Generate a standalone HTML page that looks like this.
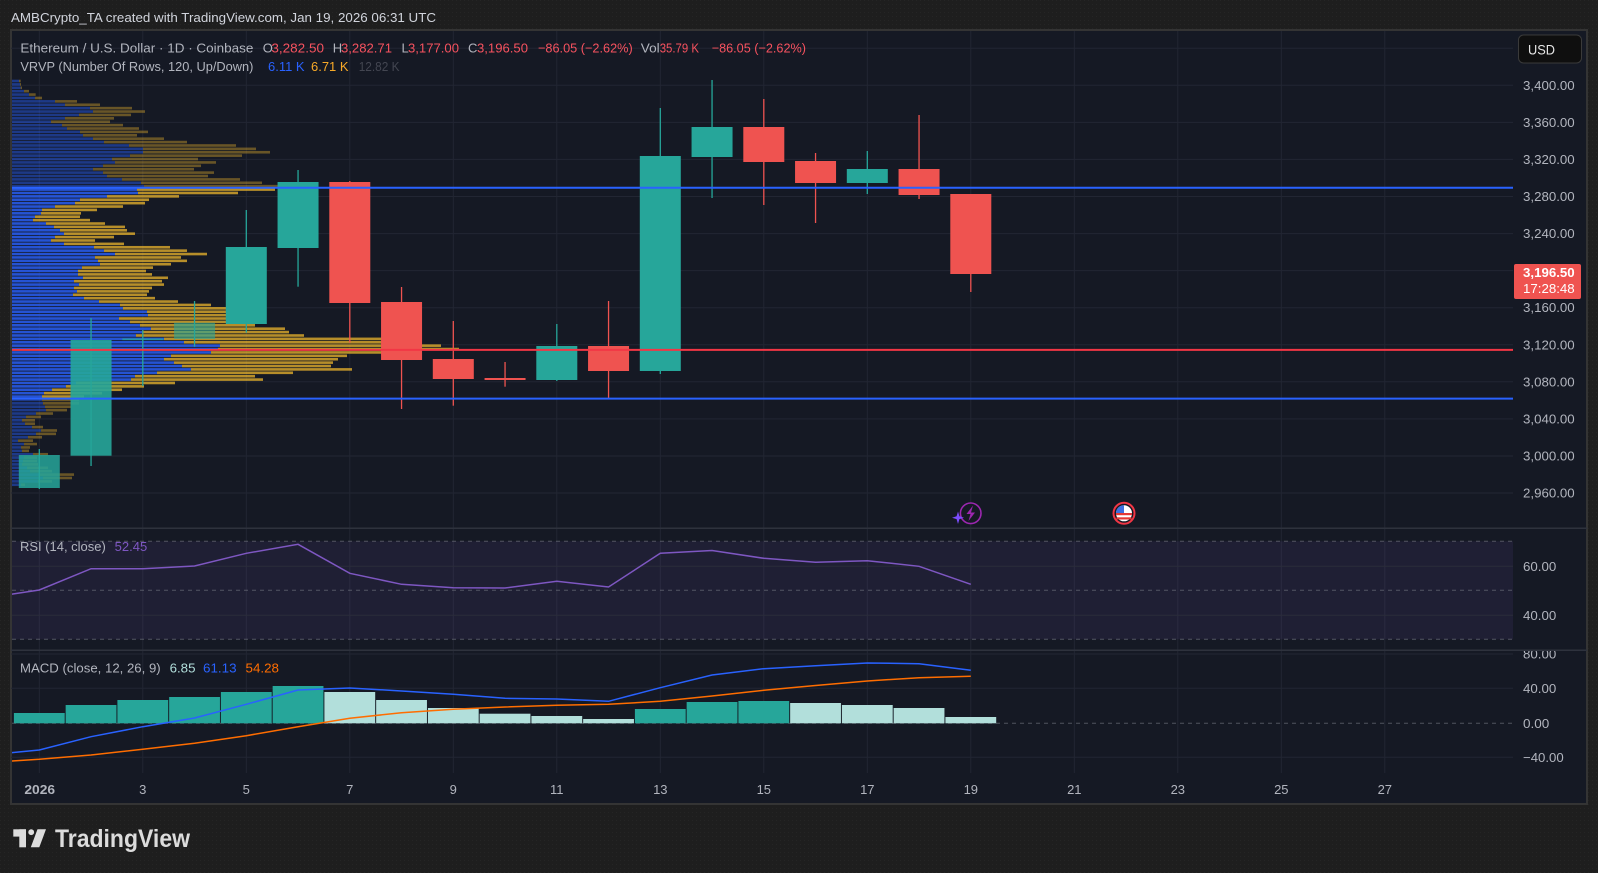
<!DOCTYPE html>
<html><head><meta charset="utf-8">
<style>
html,body{margin:0;padding:0;background:#1e1e1e;width:1598px;height:873px;overflow:hidden}
svg{display:block}
text{font-family:"Liberation Sans",sans-serif}
</style></head>
<body>
<svg width="1598" height="873" viewBox="0 0 1598 873" xmlns="http://www.w3.org/2000/svg">
<defs>
<pattern id="dots" width="4" height="4" patternUnits="userSpaceOnUse"><rect width="4" height="4" fill="#1e1e1e"/><rect width="1" height="1" fill="#252525"/></pattern>
<clipPath id="mainClip"><rect x="12" y="31" width="1501" height="497"/></clipPath>
<clipPath id="rsiClip"><rect x="12" y="529" width="1501" height="121"/></clipPath>
<clipPath id="macdClip"><rect x="12" y="651" width="1501" height="122"/></clipPath>
<clipPath id="macdAxisClip"><rect x="1513" y="651" width="74" height="122"/></clipPath>
</defs>
<rect width="1598" height="873" fill="url(#dots)"/>

<text x="11" y="22" font-size="13" fill="#d1d4dc" textLength="425" lengthAdjust="spacingAndGlyphs">AMBCrypto_TA created with TradingView.com, Jan 19, 2026 06:31 UTC</text>

<!-- frame -->
<rect x="11" y="30" width="1576" height="774" fill="#151924" stroke="#343434" stroke-width="2"/>

<!-- grid -->
<g stroke="#222633" stroke-width="1">
<line x1="11" x2="1513" y1="48.3" y2="48.3"/><line x1="11" x2="1513" y1="85.3" y2="85.3"/>
<line x1="11" x2="1513" y1="122.4" y2="122.4"/><line x1="11" x2="1513" y1="159.4" y2="159.4"/>
<line x1="11" x2="1513" y1="196.5" y2="196.5"/><line x1="11" x2="1513" y1="233.6" y2="233.6"/>
<line x1="11" x2="1513" y1="270.6" y2="270.6"/><line x1="11" x2="1513" y1="307.7" y2="307.7"/>
<line x1="11" x2="1513" y1="344.8" y2="344.8"/><line x1="11" x2="1513" y1="381.8" y2="381.8"/>
<line x1="11" x2="1513" y1="418.9" y2="418.9"/><line x1="11" x2="1513" y1="456" y2="456"/>
<line x1="11" x2="1513" y1="493" y2="493"/>
<line x1="11" x2="1513" y1="654" y2="654"/><line x1="11" x2="1513" y1="688.3" y2="688.3"/>
<line x1="11" x2="1513" y1="757.3" y2="757.3"/>
<line x1="39.3" x2="39.3" y1="31" y2="773"/><line x1="142.8" x2="142.8" y1="31" y2="773"/>
<line x1="246.3" x2="246.3" y1="31" y2="773"/><line x1="349.8" x2="349.8" y1="31" y2="773"/>
<line x1="453.3" x2="453.3" y1="31" y2="773"/><line x1="556.8" x2="556.8" y1="31" y2="773"/>
<line x1="660.3" x2="660.3" y1="31" y2="773"/><line x1="763.8" x2="763.8" y1="31" y2="773"/>
<line x1="867.3" x2="867.3" y1="31" y2="773"/><line x1="970.8" x2="970.8" y1="31" y2="773"/>
<line x1="1074.3" x2="1074.3" y1="31" y2="773"/><line x1="1177.8" x2="1177.8" y1="31" y2="773"/>
<line x1="1281.3" x2="1281.3" y1="31" y2="773"/><line x1="1384.8" x2="1384.8" y1="31" y2="773"/>
</g>

<!-- RSI band -->
<rect x="12" y="541.3" width="1501" height="98" fill="rgba(126,87,194,0.1)"/>
<g stroke="#787b86" stroke-opacity="0.6" stroke-dasharray="4 4" stroke-width="1">
<line x1="12" x2="1513" y1="541.3" y2="541.3"/>
<line x1="12" x2="1513" y1="590.3" y2="590.3"/>
<line x1="12" x2="1513" y1="639.3" y2="639.3"/>
</g>
<g stroke="#2a2d3a" stroke-width="1">
<line x1="12" x2="1513" y1="566.3" y2="566.3"/>
<line x1="12" x2="1513" y1="615.3" y2="615.3"/>
</g>

<!-- VRVP -->
<g id="vp" clip-path="url(#mainClip)"></g>

<!-- candles -->
<g clip-path="url(#mainClip)">
<g stroke="#26a69a" stroke-width="1.3">
<line x1="39.3" x2="39.3" y1="449" y2="489"/>
<line x1="91.05" x2="91.05" y1="318" y2="466"/>
<line x1="142.8" x2="142.8" y1="330" y2="386"/>
<line x1="194.55" x2="194.55" y1="301" y2="346.7"/>
<line x1="246.3" x2="246.3" y1="210" y2="332.7"/>
<line x1="298.05" x2="298.05" y1="170" y2="286.7"/>
<line x1="556.8" x2="556.8" y1="324" y2="381"/>
<line x1="660.3" x2="660.3" y1="108" y2="374"/>
<line x1="712.05" x2="712.05" y1="80" y2="198"/>
<line x1="867.3" x2="867.3" y1="151" y2="194"/>
</g>
<g stroke="#ef5350" stroke-width="1.3">
<line x1="349.8" x2="349.8" y1="181" y2="342.7"/>
<line x1="401.55" x2="401.55" y1="287" y2="409"/>
<line x1="453.3" x2="453.3" y1="321" y2="405.7"/>
<line x1="505.05" x2="505.05" y1="362" y2="386.7"/>
<line x1="608.55" x2="608.55" y1="301" y2="398.3"/>
<line x1="763.8" x2="763.8" y1="99" y2="205"/>
<line x1="815.55" x2="815.55" y1="153" y2="223"/>
<line x1="919.05" x2="919.05" y1="115" y2="199"/>
<line x1="970.8" x2="970.8" y1="194" y2="292"/>
</g>
<g fill="#26a69a">
<rect x="18.8" y="455" width="41" height="33" opacity="0.85"/>
<rect x="70.55" y="340" width="41" height="115.7" opacity="0.9"/>
<rect x="122.3" y="338.5" width="41" height="1.6" opacity="0.8"/>
<rect x="174.05" y="322.7" width="41" height="16.3" opacity="0.6"/>
<rect x="225.8" y="247" width="41" height="77"/>
<rect x="277.55" y="182" width="41" height="66"/>
<rect x="536.3" y="346" width="41" height="34"/>
<rect x="639.8" y="156" width="41" height="215"/>
<rect x="691.55" y="127" width="41" height="30"/>
<rect x="846.8" y="169" width="41" height="14"/>
</g>
<g fill="#ef5350">
<rect x="329.3" y="182" width="41" height="121"/>
<rect x="381.05" y="302" width="41" height="58"/>
<rect x="432.8" y="359" width="41" height="20"/>
<rect x="484.55" y="378" width="41" height="2"/>
<rect x="588.05" y="346" width="41" height="25"/>
<rect x="743.3" y="127" width="41" height="35"/>
<rect x="795.05" y="161" width="41" height="22"/>
<rect x="898.55" y="169" width="41" height="26"/>
<rect x="950.3" y="194" width="41" height="80"/>
</g>
<!-- horizontal drawings -->
<line x1="12" x2="1513" y1="187.7" y2="187.7" stroke="#2962ff" stroke-width="2"/>
<line x1="12" x2="1513" y1="349.9" y2="349.9" stroke="#f23645" stroke-width="2"/>
<line x1="12" x2="1513" y1="398.6" y2="398.6" stroke="#2962ff" stroke-width="2"/>
</g>

<!-- RSI line -->
<g clip-path="url(#rsiClip)">
<polyline fill="none" stroke="#7e57c2" stroke-width="1.5" points="11.2,594.3 39.3,590 91.05,568.7 142.8,568.7 194.55,566 246.3,553.3 298.05,544.3 349.8,573.3 401.55,584.3 453.3,587.7 505.05,588 556.8,581.3 608.55,587 660.3,553.3 712.05,550.5 763.8,558.3 815.55,562.3 867.3,560.7 919.05,566.3 970.8,584.3"/>
</g>

<!-- MACD -->
<g clip-path="url(#macdClip)">
<line x1="12" x2="1513" y1="723.3" y2="723.3" stroke="#787b86" stroke-opacity="0.6" stroke-dasharray="4 4"/>
<g fill="#26a69a">
<rect x="13.9" y="713" width="50.8" height="10.3"/>
<rect x="65.65" y="705" width="50.8" height="18.3"/>
<rect x="117.4" y="700" width="50.8" height="23.3"/>
<rect x="169.15" y="697" width="50.8" height="26.3"/>
<rect x="220.9" y="692" width="50.8" height="31.3"/>
<rect x="272.65" y="686" width="50.8" height="37.3"/>
<rect x="634.9" y="709" width="50.8" height="14.3"/>
<rect x="686.65" y="702" width="50.8" height="21.3"/>
<rect x="738.4" y="701" width="50.8" height="22.3"/>
</g>
<g fill="#b2dfdb">
<rect x="324.4" y="692" width="50.8" height="31.3"/>
<rect x="376.15" y="700" width="50.8" height="23.3"/>
<rect x="427.9" y="708" width="50.8" height="15.3"/>
<rect x="479.65" y="713.7" width="50.8" height="9.6"/>
<rect x="531.4" y="716" width="50.8" height="7.3"/>
<rect x="583.15" y="719" width="50.8" height="4.3"/>
<rect x="790.15" y="703" width="50.8" height="20.3"/>
<rect x="841.9" y="705" width="50.8" height="18.3"/>
<rect x="893.65" y="708" width="50.8" height="15.3"/>
<rect x="945.4" y="717" width="50.8" height="6.3"/>
</g>
<polyline fill="none" stroke="#2962ff" stroke-width="1.5" points="11.2,752.7 39.3,750 91.05,736.7 142.8,726.7 194.55,718 246.3,704.3 298.05,690 349.8,688 401.55,691 453.3,694.3 505.05,698.3 556.8,699 608.55,701.3 660.3,687.7 712.05,675 763.8,668.7 815.55,665.7 867.3,663 919.05,663.7 970.8,670.3"/>
<polyline fill="none" stroke="#ff6d00" stroke-width="1.5" points="11.2,761 39.3,759.3 91.05,755 142.8,749.3 194.55,743.3 246.3,735.7 298.05,726.7 349.8,718.3 401.55,712.7 453.3,709.3 505.05,707 556.8,705.3 608.55,704.3 660.3,701.3 712.05,696 763.8,690.3 815.55,685.5 867.3,681 919.05,677.7 970.8,676.3"/>
</g>

<!-- pane separators -->
<line x1="11" x2="1587" y1="528.3" y2="528.3" stroke="#2e323d" stroke-width="1.5"/>
<line x1="11" x2="1587" y1="650.3" y2="650.3" stroke="#2e323d" stroke-width="1.5"/>

<!-- legends -->
<g font-size="13">
<text x="20.4" y="52.5" fill="#b2b5be" textLength="233" lengthAdjust="spacingAndGlyphs">Ethereum / U.S. Dollar · 1D · Coinbase</text>
<text x="262.8" y="52.5" fill="#b2b5be">O</text>
<text x="271.4" y="52.5" fill="#f7525f" textLength="52.6" lengthAdjust="spacingAndGlyphs">3,282.50</text>
<text x="332.7" y="52.5" fill="#b2b5be">H</text>
<text x="341" y="52.5" fill="#f7525f" textLength="51" lengthAdjust="spacingAndGlyphs">3,282.71</text>
<text x="401.5" y="52.5" fill="#b2b5be">L</text>
<text x="408" y="52.5" fill="#f7525f" textLength="51" lengthAdjust="spacingAndGlyphs">3,177.00</text>
<text x="468" y="52.5" fill="#b2b5be">C</text>
<text x="477" y="52.5" fill="#f7525f" textLength="51" lengthAdjust="spacingAndGlyphs">3,196.50</text>
<text x="538" y="52.5" fill="#f7525f" textLength="94.7" lengthAdjust="spacingAndGlyphs">−86.05 (−2.62%)</text>
<text x="640.8" y="52.5" fill="#b2b5be" textLength="18.9" lengthAdjust="spacingAndGlyphs">Vol</text>
<text x="659.7" y="52.5" fill="#f7525f" textLength="39.3" lengthAdjust="spacingAndGlyphs">35.79 K</text>
<text x="711.7" y="52.5" fill="#f7525f" textLength="94.3" lengthAdjust="spacingAndGlyphs">−86.05 (−2.62%)</text>

<text x="20.4" y="71" fill="#b2b5be" textLength="233" lengthAdjust="spacingAndGlyphs">VRVP (Number Of Rows, 120, Up/Down)</text>
<text x="268" y="71" fill="#2962ff" textLength="36.6" lengthAdjust="spacingAndGlyphs">6.11 K</text>
<text x="311" y="71" fill="#f7a928" textLength="37.5" lengthAdjust="spacingAndGlyphs">6.71 K</text>
<text x="358.7" y="71" fill="#434651" textLength="40.8" lengthAdjust="spacingAndGlyphs">12.82 K</text>

<text x="20" y="551" fill="#b2b5be" textLength="85.8" lengthAdjust="spacingAndGlyphs">RSI (14, close)</text>
<text x="114.7" y="551" fill="#7e57c2" textLength="32.6" lengthAdjust="spacingAndGlyphs">52.45</text>

<text x="20" y="672.7" fill="#b2b5be" textLength="140.7" lengthAdjust="spacingAndGlyphs">MACD (close, 12, 26, 9)</text>
<text x="169.6" y="672.7" fill="#b2dfdb" textLength="25.9" lengthAdjust="spacingAndGlyphs">6.85</text>
<text x="203" y="672.7" fill="#2962ff" textLength="33.6" lengthAdjust="spacingAndGlyphs">61.13</text>
<text x="245.5" y="672.7" fill="#ff6d00" textLength="33.5" lengthAdjust="spacingAndGlyphs">54.28</text>
</g>

<!-- price axis -->
<g font-size="13" fill="#b2b5be">
<text x="1523" y="89.8" textLength="51.7" lengthAdjust="spacingAndGlyphs">3,400.00</text>
<text x="1523" y="126.9" textLength="51.7" lengthAdjust="spacingAndGlyphs">3,360.00</text>
<text x="1523" y="163.9" textLength="51.7" lengthAdjust="spacingAndGlyphs">3,320.00</text>
<text x="1523" y="201" textLength="51.7" lengthAdjust="spacingAndGlyphs">3,280.00</text>
<text x="1523" y="238.1" textLength="51.7" lengthAdjust="spacingAndGlyphs">3,240.00</text>
<text x="1523" y="312.2" textLength="51.7" lengthAdjust="spacingAndGlyphs">3,160.00</text>
<text x="1523" y="349.3" textLength="51.7" lengthAdjust="spacingAndGlyphs">3,120.00</text>
<text x="1523" y="386.3" textLength="51.7" lengthAdjust="spacingAndGlyphs">3,080.00</text>
<text x="1523" y="423.4" textLength="51.7" lengthAdjust="spacingAndGlyphs">3,040.00</text>
<text x="1523" y="460.5" textLength="51.7" lengthAdjust="spacingAndGlyphs">3,000.00</text>
<text x="1523" y="497.5" textLength="51.7" lengthAdjust="spacingAndGlyphs">2,960.00</text>
<text x="1523" y="570.8" textLength="33.3" lengthAdjust="spacingAndGlyphs">60.00</text>
<text x="1523" y="619.8" textLength="33.3" lengthAdjust="spacingAndGlyphs">40.00</text>
<g clip-path="url(#macdAxisClip)">
<text x="1523" y="658.5" textLength="33.3" lengthAdjust="spacingAndGlyphs">80.00</text>
</g>
<text x="1523" y="692.8" textLength="33.3" lengthAdjust="spacingAndGlyphs">40.00</text>
<text x="1523" y="727.8" textLength="26.3" lengthAdjust="spacingAndGlyphs">0.00</text>
<text x="1523" y="761.8" textLength="40.7" lengthAdjust="spacingAndGlyphs">−40.00</text>
</g>

<!-- last price label -->
<rect x="1514" y="264" width="67" height="35" rx="2" fill="#ef5350"/>
<text x="1523" y="277" font-size="13" font-weight="bold" fill="#ffffff" textLength="51.7" lengthAdjust="spacingAndGlyphs">3,196.50</text>
<text x="1523" y="293" font-size="13" fill="#ffffff" textLength="51.7" lengthAdjust="spacingAndGlyphs">17:28:48</text>

<!-- USD button -->
<rect x="1518.5" y="35" width="63" height="28" rx="5" fill="#0f0f0f" stroke="#3a3a3a" stroke-width="1"/>
<text x="1528" y="54.5" font-size="14" fill="#e6e6e6" textLength="27" lengthAdjust="spacingAndGlyphs">USD</text>

<!-- time axis -->
<g font-size="13" fill="#b2b5be" text-anchor="middle">
<text x="39.7" y="794" font-weight="bold" textLength="30.7" lengthAdjust="spacingAndGlyphs">2026</text>
<text x="142.8" y="794">3</text>
<text x="246.3" y="794">5</text>
<text x="349.8" y="794">7</text>
<text x="453.3" y="794">9</text>
<text x="556.8" y="794">11</text>
<text x="660.3" y="794">13</text>
<text x="763.8" y="794">15</text>
<text x="867.3" y="794">17</text>
<text x="970.8" y="794">19</text>
<text x="1074.3" y="794">21</text>
<text x="1177.8" y="794">23</text>
<text x="1281.3" y="794">25</text>
<text x="1384.8" y="794">27</text>
</g>

<!-- event icons -->
<circle cx="970.7" cy="513.3" r="10.3" fill="#151924" stroke="#9c27b0" stroke-width="1.6"/>
<path d="M973 505.5 L966.5 514 L970.5 514 L968.5 521 L975 512.5 L971 512.5 Z" fill="#9c27b0"/>
<path d="M958 511.5 L959.4 516.3 L964 517.7 L959.4 519.1 L958 524 L956.6 519.1 L952 517.7 L956.6 516.3 Z" fill="#7c4dff"/>
<circle cx="1124" cy="513.3" r="10.5" fill="#151924" stroke="#f23645" stroke-width="2"/>
<circle cx="1124" cy="513.3" r="8" fill="#ffffff"/>
<rect x="1116" y="513" width="16" height="2.2" fill="#e53935"/>
<rect x="1116.5" y="517.3" width="15" height="2.2" fill="#e53935"/>
<path d="M1116.2 511 A8 8 0 0 1 1124 505.3 L1124 513 L1116 513 Z" fill="#3d6fe0"/>

<!-- TradingView logo -->
<g fill="#dcdcdc">
<rect x="13.3" y="829.3" width="12.7" height="7.3"/>
<rect x="19.3" y="829.3" width="6.7" height="18"/>
<circle cx="31.2" cy="832.2" r="2.9"/>
<polygon points="37.5,829.3 46,829.3 39.3,847.3 30.8,847.3"/>
</g>
<text x="55" y="847" font-size="25" font-weight="bold" fill="#dcdcdc" textLength="135" lengthAdjust="spacingAndGlyphs">TradingView</text>
</svg>

<script>
(function(){
var B=[57,60,62,72,87,105,165,195,270,279,237,195,153,186,201,240,249,279,312,387,429,429,390,336,345,309,279,309,321,366,423,432,
411,414,321,240,225,165,126,123,105,99,138,162,180,192,165,153,192,282,312,345,285,294,300,246,234,234,249,222,237,222,231,219,252,297,360,369,441,444,357,390,420,453,426,408,492,552,660,654,633,513,492,522,546,573,471,405,393,228,198,156,132,126,
126,129,135,138,108,78,66,75,96,123,108,84,54,72,63,66,99,72,69,66,81,90,120,129,114,63];
var O=[62,63,66,87,107,126,231,300,396,435,393,342,330,369,417,444,411,492,561,708,768,810,726,594,648,603,582,642,624,720,786,882,
825,714,537,447,435,369,291,243,240,270,315,375,381,405,342,285,372,510,561,621,543,561,513,459,438,456,504,486,492,456,447,441,465,534,633,678,768,777,681,732,765,855,867,912,1161,1248,1323,1377,1242,1041,1014,999,993,1056,879,765,789,525,432,366,306,252,
237,237,213,201,159,123,105,105,129,171,168,126,99,111,90,87,144,111,111,114,144,156,222,216,156,75];
var g=document.getElementById('vp'),ns='http://www.w3.org/2000/svg',x0=12;
for(var i=0;i<B.length;i++){
 var yc=81+i*3.393,bright=(i>=32&&i<94);
 var b=B[i]/3,o=O[i]/3;
 var cb=bright?'rgba(41,98,255,0.8)':'rgba(41,98,255,0.45)';
 var co=bright?'rgba(251,192,45,0.7)':'rgba(251,192,45,0.36)';
 if(b>x0){var r=document.createElementNS(ns,'rect');r.setAttribute('x',x0);r.setAttribute('y',(yc-1.3).toFixed(2));r.setAttribute('width',(b-x0).toFixed(2));r.setAttribute('height','2.6');r.setAttribute('fill',cb);g.appendChild(r);}
 var s=Math.max(b,x0);
 if(o>s){var r2=document.createElementNS(ns,'rect');r2.setAttribute('x',s.toFixed(2));r2.setAttribute('y',(yc-1.3).toFixed(2));r2.setAttribute('width',(o-s).toFixed(2));r2.setAttribute('height','2.6');r2.setAttribute('fill',co);g.appendChild(r2);}
}
})();
</script>
</body></html>
